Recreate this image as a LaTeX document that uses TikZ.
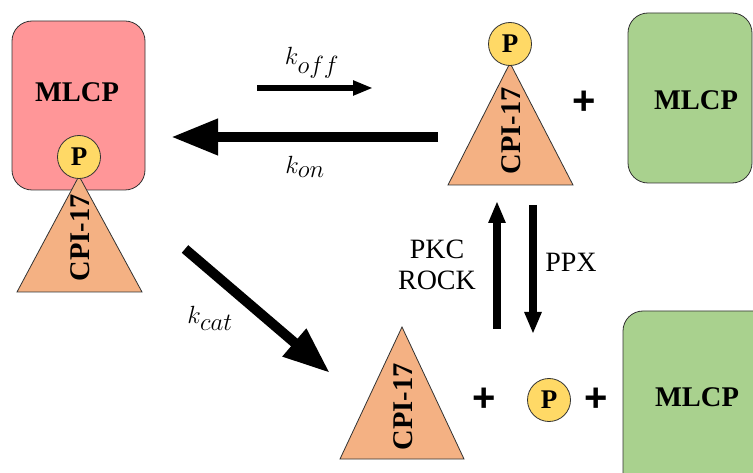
\documentclass[tikz,border=0pt]{standalone}
\usepackage{fontspec}
\setmainfont{Liberation Serif}
\newfontfamily\plusfont{Liberation Sans}
\DeclareMathSizes{30}{30}{23}{17}
\usetikzlibrary{arrows.meta}
\definecolor{redbox}{RGB}{255,150,152}
\definecolor{greenbox}{RGB}{169,209,142}
\definecolor{tri}{RGB}{244,177,131}
\definecolor{pyel}{RGB}{255,217,102}
\definecolor{edgec}{RGB}{50,50,50}
\begin{document}
\begin{tikzpicture}[x=1pt,y=-1pt,
  box/.style={draw=edgec, line width=0.8pt, rounded corners=20pt},
  boldlbl/.style={font=\fontsize{28.5}{30}\selectfont\bfseries, inner sep=0pt},
  pcirc/.style={circle, draw=edgec, fill=pyel, line width=0.8pt, minimum size=43pt, inner sep=0pt, font=\fontsize{27}{29}\selectfont\bfseries},
  trin/.style={draw=edgec, fill=tri, line width=0.8pt},
  plus/.style={font=\plusfont\fontsize{40}{42}\selectfont\bfseries, inner sep=0pt},
  rate/.style={font=\fontsize{30}{32}\selectfont, inner sep=0pt},
  enz/.style={font=\fontsize{28}{31}\selectfont, inner sep=0pt, align=center},
  bigarrow/.style={line width=10pt, -{Triangle[length=47pt,width=34pt]}},
  smallarrow/.style={line width=6pt, -{Triangle[length=20pt,width=14pt]}},
  vertarrow/.style={line width=8pt, -{Triangle[length=22pt,width=16pt]}}]
\useasboundingbox (0,0) rectangle (753,473);
% left complex
\draw[box, fill=redbox] (12,21) rectangle (145,190);
\node[boldlbl] (mlcp1) at (77,92) {MLCP};
\draw[trin] (17,292) -- (79,176) -- (142,292) -- cycle;
\node[boldlbl, rotate=90] (cpi1) at (80,238) {CPI-17};
\node[pcirc] (p1) at (79,157) {P};
% top right
\draw[trin] (448,185) -- (510,63) -- (573,185) -- cycle;
\node[boldlbl, rotate=90] (cpi2) at (511,131) {CPI-17};
\node[pcirc] (p2) at (510,44) {P};
\node[plus] (plus1) at (584,103) {+};
\draw[box, fill=greenbox] (628,13) rectangle (752,183);
\node[boldlbl] (mlcp2) at (696,100) {MLCP};
% bottom
\draw[trin] (340,459) -- (402,327) -- (464,459) -- cycle;
\node[boldlbl, rotate=90] (cpi3) at (403,407) {CPI-17};
\node[plus] (plus2) at (484,400) {+};
\node[pcirc] (p3) at (549,400) {P};
\node[plus] (plus3) at (596,400) {+};
\draw[box, fill=greenbox] (623,311) rectangle (775,495);
\node[boldlbl] (mlcp3) at (697,397) {MLCP};
% arrows
\coordinate (koffs) at (257,88);
\coordinate (koffe) at (373,88);
\draw[smallarrow] (koffs) -- (koffe);
\node[rate] (koff) at (312,63) {$k_{off}$};
\coordinate (kons) at (438,137);
\coordinate (kone) at (171,137);
\draw[bigarrow] (kons) -- (kone);
\node[rate] (kon) at (305,167) {$k_{on}$};
\coordinate (kcats) at (185,249);
\coordinate (kcate) at (330,373);
\draw[bigarrow] (kcats) -- (kcate);
\node[rate] (kcat) at (210,318) {$k_{cat}$};
\coordinate (ups) at (497,329);
\coordinate (upe) at (497,201);
\draw[vertarrow] (ups) -- (upe);
\coordinate (dns) at (533,205);
\coordinate (dne) at (533,334);
\draw[vertarrow] (dns) -- (dne);
\node[enz] (pkc) at (437,265) {PKC\\ROCK};
\node[enz] (ppx) at (571,262) {PPX};
\end{tikzpicture}
\end{document}
